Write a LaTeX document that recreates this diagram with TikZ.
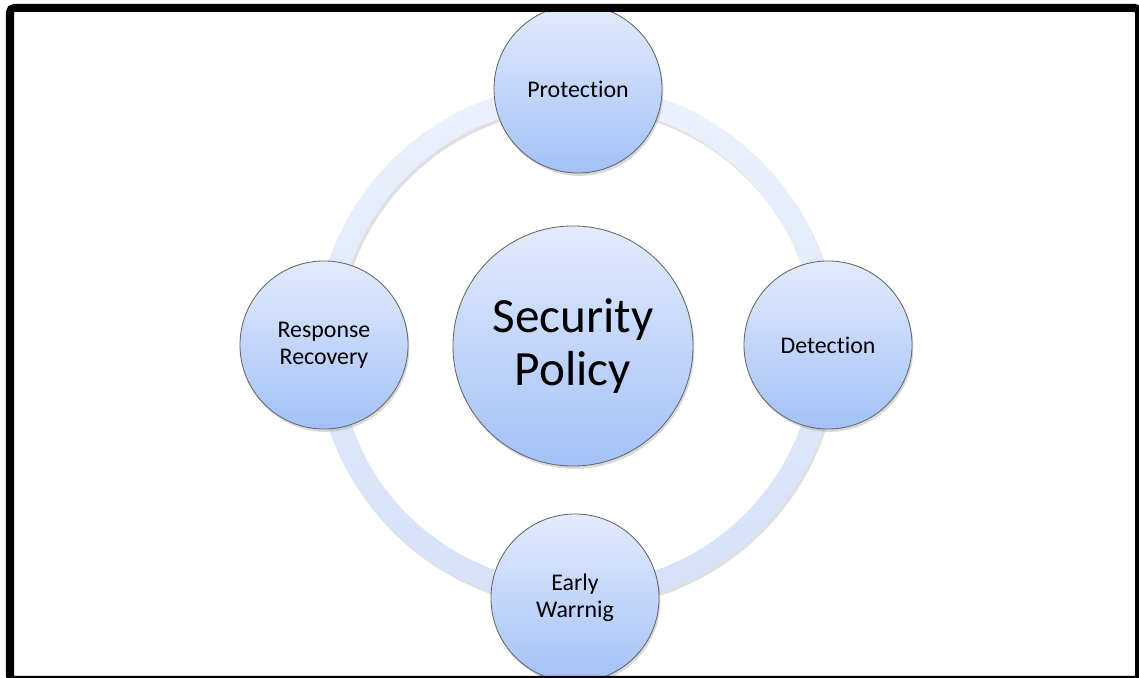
\documentclass[tikz,border=0pt]{standalone}
\usepackage{fontspec}
\setmainfont{Carlito}[Ligatures=NoCommon]
\usetikzlibrary{shadows}

\definecolor{ringtop}{RGB}{236,241,252}
\definecolor{ringbot}{RGB}{212,225,250}
\definecolor{disctop}{RGB}{226,235,253}
\definecolor{discbot}{RGB}{163,193,247}

\begin{document}
\begin{tikzpicture}[x=0.025cm,y=0.025cm]
	\tikzstyle{disc}=[circle,draw=black!60,line width=0.6pt,top color=disctop,bottom color=discbot,inner sep=0pt,align=center,drop shadow={opacity=0.3,shadow xshift=1pt,shadow yshift=-2pt}]
	\tikzstyle{phase}=[disc,minimum size=4.2cm,font=\fontsize{17}{19}\selectfont]
	\tikzstyle{core}=[disc,minimum size=6cm,font=\fontsize{35}{38}\selectfont]
	
	\useasboundingbox (0,0) rectangle (1139,678);
	
	% Draw the ring behind the nodes
	\coordinate (C) at (576,333);
	\fill[black,opacity=0.12,even odd rule] ([shift={(2,-3)}]C) circle (261) ([shift={(2,-3)}]C) circle (239);
	\shade[top color=ringtop,bottom color=ringbot,even odd rule] (C) circle (261) (C) circle (239);
	
	% Draw the center node
	\node[core] (policy) at (573,332) {Security\\Policy};
	
	% Draw the phase nodes round the ring
	\foreach \name / \pos / \txt in {prot/{(578,589)}/Protection, det/{(828,333)}/Detection, warn/{(575,80)}/{Early\\Warrnig}, resp/{(324,333)}/{Response\\Recovery}}
	\node[phase] (\name) at \pos {\txt};
	
	% Frame
	\draw[line width=0.2cm,rounded corners=3] (10,-2) rectangle (1139,670);
\end{tikzpicture}
\end{document}
